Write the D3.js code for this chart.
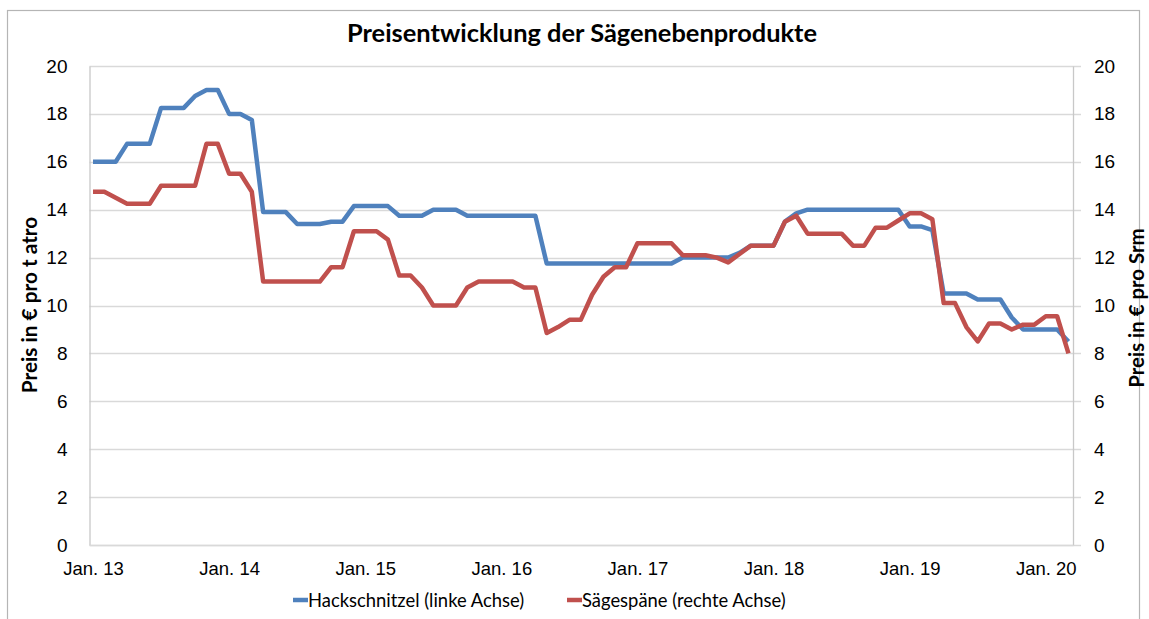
<!DOCTYPE html>
<html>
<head>
<meta charset="utf-8">
<script src="https://cdn.jsdelivr.net/npm/d3@7"></script>
<style>
  body { margin: 0; background: #fff; }
  svg { font-family: Lato, "Open Sans", sans-serif; }
</style>
</head>
<body>
<svg id="chart" width="1149" height="619"></svg>
<script>
// monthly prices, Jan 2013 .. Mar 2020
const months = d3.timeMonth.range(new Date(2013, 0, 1), new Date(2020, 3, 1));
const hackschnitzel = [
  16, 16, 16, 16.75, 16.75, 16.75, 18.25, 18.25, 18.25, 18.75, 19, 19,
  18, 18, 17.75, 13.9, 13.9, 13.9, 13.4, 13.4, 13.4, 13.5, 13.5, 14.15,
  14.15, 14.15, 14.15, 13.75, 13.75, 13.75, 14, 14, 14, 13.75, 13.75, 13.75,
  13.75, 13.75, 13.75, 13.75, 11.75, 11.75, 11.75, 11.75, 11.75, 11.75, 11.75, 11.75,
  11.75, 11.75, 11.75, 11.75, 12, 12, 12, 12, 12, 12.2, 12.5, 12.5,
  12.5, 13.5, 13.85, 14, 14, 14, 14, 14, 14, 14, 14, 14,
  13.3, 13.3, 13.15, 10.5, 10.5, 10.5, 10.25, 10.25, 10.25, 9.5, 9, 9,
  9, 9, 8.5
];
const saegespaene = [
  14.75, 14.75, 14.5, 14.25, 14.25, 14.25, 15, 15, 15, 15, 16.75, 16.75,
  15.5, 15.5, 14.75, 11, 11, 11, 11, 11, 11, 11.6, 11.6, 13.1,
  13.1, 13.1, 12.75, 11.25, 11.25, 10.75, 10, 10, 10, 10.75, 11, 11,
  11, 11, 10.75, 10.75, 8.85, 9.1, 9.4, 9.4, 10.45, 11.2, 11.6, 11.6,
  12.6, 12.6, 12.6, 12.6, 12.1, 12.1, 12.1, 12, 11.8, 12.15, 12.5, 12.5,
  12.5, 13.5, 13.75, 13, 13, 13, 13, 12.5, 12.5, 13.25, 13.25, 13.55,
  13.85, 13.85, 13.6, 10.1, 10.1, 9.1, 8.5, 9.25, 9.25, 9, 9.2, 9.2,
  9.55, 9.55, 8
];
const yearTicks = [0, 12, 24, 36, 48, 60, 72, 84];
const yearLabels = ["Jan. 13", "Jan. 14", "Jan. 15", "Jan. 16", "Jan. 17", "Jan. 18", "Jan. 19", "Jan. 20"];
const valueTicks = [0, 2, 4, 6, 8, 10, 12, 14, 16, 18, 20];

const blue = "#4F81BD", red = "#C0504D";
const plotLeft = 89.5, plotRight = 1073, plotTop = 66, plotBottom = 545;

const svg = d3.select("#chart");

// outer chart border
svg.append("rect")
  .attr("x", 7.5).attr("y", 10.5).attr("width", 1132).attr("height", 640)
  .attr("fill", "#fff").attr("stroke", "#b5b5b5").attr("stroke-width", 1.2);

const x = d3.scaleLinear().domain([-0.31, 86.4]).range([plotLeft, plotRight]);
const yL = d3.scaleLinear().domain([0, 20]).range([plotBottom, plotTop]);
const yR = d3.scaleLinear().domain([0, 20]).range([plotBottom, plotTop]);

// gridlines
svg.append("g").selectAll("line").data(valueTicks).join("line")
  .attr("x1", plotLeft).attr("x2", plotRight + 8)
  .attr("y1", d => Math.round(yL(d)) + 0.5).attr("y2", d => Math.round(yL(d)) + 0.5)
  .attr("stroke", "#d9d9d9").attr("stroke-width", 1.3);

// left axis
const axL = svg.append("g").attr("transform", "translate(" + plotLeft + ",0)")
  .call(d3.axisLeft(yL).tickValues(valueTicks).tickSize(0).tickPadding(22));
axL.select(".domain").attr("stroke", "#c8c8c8").attr("stroke-width", 1.3);
axL.selectAll("text").attr("font-size", "19px").attr("fill", "#000");

// right axis
const axR = svg.append("g").attr("transform", "translate(" + plotRight + ",0)")
  .call(d3.axisRight(yR).tickValues(valueTicks).tickSize(0).tickPadding(21));
axR.select(".domain").attr("stroke", "#c8c8c8").attr("stroke-width", 1.3);
axR.selectAll("text").attr("font-size", "19px").attr("fill", "#000");

// bottom axis
const axB = svg.append("g").attr("transform", "translate(0," + plotBottom + ")")
  .call(d3.axisBottom(x).tickValues(yearTicks).tickSize(0).tickPadding(17)
    .tickFormat((d, i) => yearLabels[i]));
axB.select(".domain").attr("stroke", "#d9d9d9").attr("stroke-width", 1.3);
axB.selectAll("text").attr("font-size", "18.5px").attr("fill", "#000");

// series
const lineL = d3.line().x((d, i) => x(i)).y(d => yL(d));
const lineR = d3.line().x((d, i) => x(i)).y(d => yR(d));
svg.append("path").datum(hackschnitzel).attr("d", lineL)
  .attr("fill", "none").attr("stroke", blue).attr("stroke-width", 4.5)
  .attr("stroke-linejoin", "round");
svg.append("path").datum(saegespaene).attr("d", lineR)
  .attr("fill", "none").attr("stroke", red).attr("stroke-width", 4.5)
  .attr("stroke-linejoin", "round");

// title
svg.append("text")
  .attr("x", 582).attr("y", 42)
  .attr("text-anchor", "middle")
  .attr("font-size", "25.4px").attr("font-weight", "bold")
  .text("Preisentwicklung der Sägenebenprodukte");

// axis titles
svg.append("text")
  .attr("transform", "translate(30,305) rotate(-90)")
  .attr("text-anchor", "middle").attr("dy", "0.35em")
  .attr("font-size", "20.8px").attr("font-weight", "bold")
  .text("Preis in € pro t atro");
svg.append("text")
  .attr("transform", "translate(1137,308) rotate(-90)")
  .attr("text-anchor", "middle").attr("dy", "0.35em")
  .attr("font-size", "20.4px").attr("font-weight", "bold")
  .text("Preis in € pro Srm");

// legend
const legend = [
  { name: "Hackschnitzel (linke Achse)", color: blue, x: 293 },
  { name: "Sägespäne (rechte Achse)", color: red, x: 567 }
];
const lg = svg.append("g").selectAll("g").data(legend).join("g")
  .attr("transform", d => "translate(" + d.x + ",600)");
lg.append("line").attr("x1", 0).attr("x2", 15).attr("y1", 0).attr("y2", 0)
  .attr("stroke", d => d.color).attr("stroke-width", 4.5);
lg.append("text").attr("x", 15).attr("y", 6.5)
  .attr("font-size", "18.4px")
  .text(d => d.name);
</script>
</body>
</html>
